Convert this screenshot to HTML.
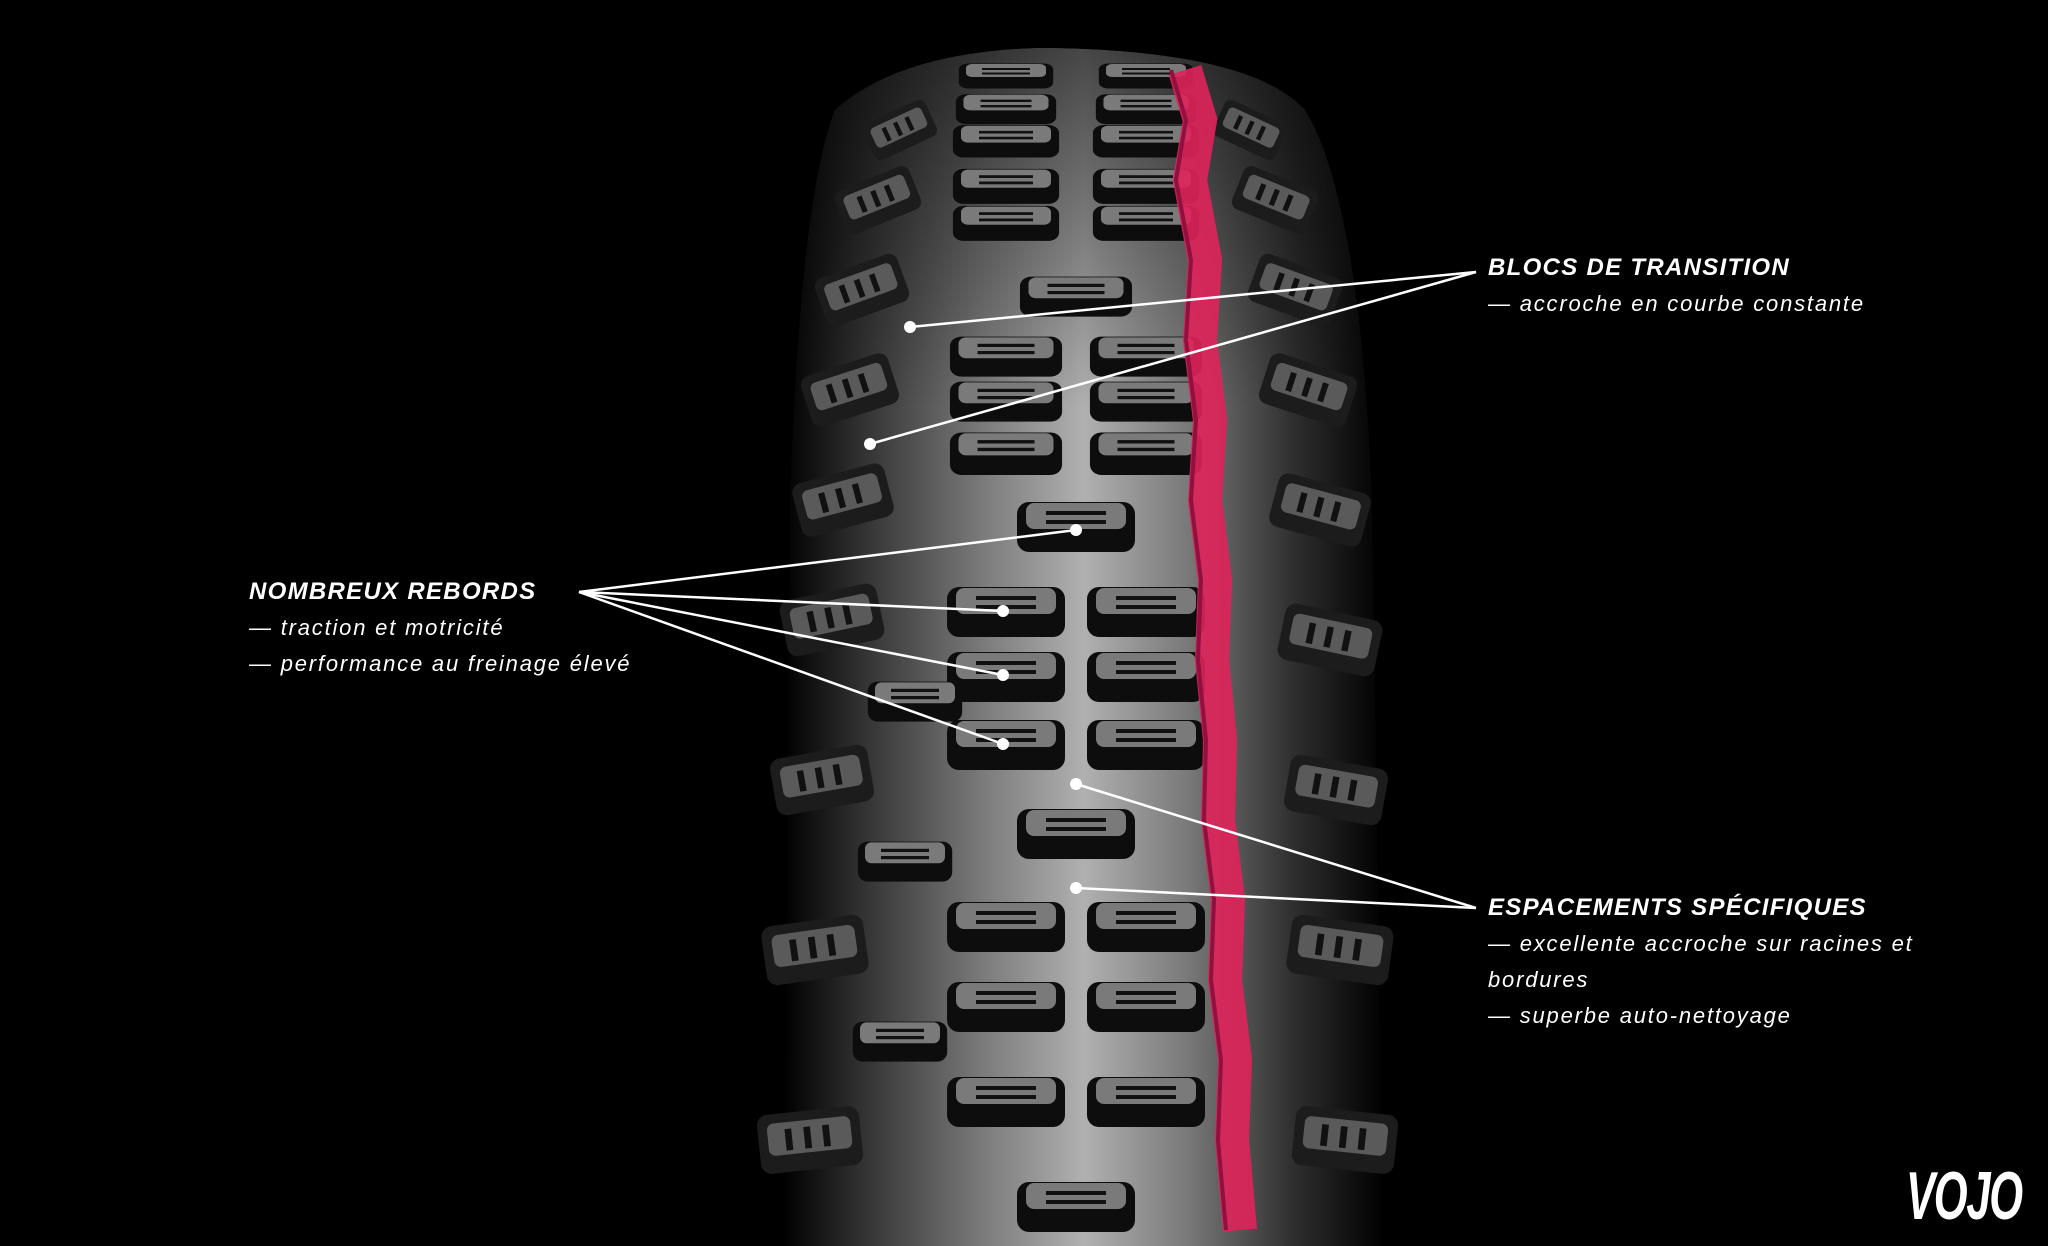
<!DOCTYPE html>
<html><head><meta charset="utf-8"><style>
html,body{margin:0;padding:0;background:#000;}
body{width:2048px;height:1246px;position:relative;overflow:hidden;font-family:"Liberation Sans",sans-serif;color:#fff;}
.t{position:absolute;font-style:italic;font-size:22px;letter-spacing:1.8px;line-height:36px;}
.t b{font-size:24px;font-weight:900;letter-spacing:1.3px;}
</style></head><body>
<svg width="2048" height="1246" style="position:absolute;left:0;top:0">
<defs>
<linearGradient id="tg" x1="0" x2="1" y1="0" y2="0">
<stop offset="0" stop-color="#000"/>
<stop offset="0.12" stop-color="#2e2e2e"/>
<stop offset="0.33" stop-color="#7a7a7a"/>
<stop offset="0.5" stop-color="#b0b0b0"/>
<stop offset="0.67" stop-color="#7a7a7a"/>
<stop offset="0.85" stop-color="#2e2e2e"/>
<stop offset="1" stop-color="#000"/>
</linearGradient>
<linearGradient id="vg" x1="0" x2="0" y1="0" y2="1">
<stop offset="0" stop-color="#000" stop-opacity="0.6"/>
<stop offset="0.3" stop-color="#000" stop-opacity="0"/>
</linearGradient>
<g id="blk"><rect x="-59" y="-23" width="118" height="50" rx="12" fill="#0d0d0d"/><rect x="-50" y="-22" width="100" height="26" rx="8" fill="#7a7a7a"/><rect x="-30" y="-14" width="60" height="4" fill="#111"/><rect x="-30" y="-5" width="60" height="4" fill="#111"/></g>
<g id="sb"><rect x="-38" y="-22" width="76" height="44" rx="8" fill="#1c1c1c"/><rect x="-31" y="-15" width="62" height="24" rx="5" fill="#5a5a5a"/><rect x="-18" y="-10" width="5" height="16" fill="#111"/><rect x="-4" y="-10" width="5" height="16" fill="#111"/><rect x="10" y="-10" width="5" height="16" fill="#111"/></g>
</defs>
<path d="M784,1246 L790,500 Q800,200 835,110 Q900,52 1040,48 Q1250,50 1305,110 Q1360,200 1372,500 L1384,1246 Z" fill="url(#tg)"/>
<path d="M784,1246 L790,500 Q800,200 835,110 Q900,52 1040,48 Q1250,50 1305,110 Q1360,200 1372,500 L1384,1246 Z" fill="url(#vg)"/>
<g>
<use href="#blk" transform="translate(1006,75) scale(0.8,0.5)"/><use href="#blk" transform="translate(1146,75) scale(0.8,0.5)"/>
<use href="#blk" transform="translate(1006,108) scale(0.85,0.6)"/><use href="#blk" transform="translate(1146,108) scale(0.85,0.6)"/>
<use href="#blk" transform="translate(1006,140) scale(0.9,0.65)"/><use href="#blk" transform="translate(1146,140) scale(0.9,0.65)"/>
<use href="#blk" transform="translate(1006,185) scale(0.9,0.7)"/><use href="#blk" transform="translate(1146,185) scale(0.9,0.7)"/>
<use href="#blk" transform="translate(1006,222) scale(0.9,0.7)"/><use href="#blk" transform="translate(1146,222) scale(0.9,0.7)"/>
<use href="#blk" transform="translate(1076,295) scale(0.95,0.8)"/>
<use href="#blk" transform="translate(1006,355) scale(0.95,0.8)"/><use href="#blk" transform="translate(1146,355) scale(0.95,0.8)"/>
<use href="#blk" transform="translate(1006,400) scale(0.95,0.8)"/><use href="#blk" transform="translate(1146,400) scale(0.95,0.8)"/>
<use href="#blk" transform="translate(1006,452) scale(0.95,0.85)"/><use href="#blk" transform="translate(1146,452) scale(0.95,0.85)"/>
<use href="#blk" transform="translate(1076,525)"/>
<use href="#blk" transform="translate(1006,610)"/><use href="#blk" transform="translate(1146,610)"/>
<use href="#blk" transform="translate(1006,675)"/><use href="#blk" transform="translate(1146,675)"/>
<use href="#blk" transform="translate(1006,743)"/><use href="#blk" transform="translate(1146,743)"/>
<use href="#blk" transform="translate(1076,832)"/>
<use href="#blk" transform="translate(1006,925)"/><use href="#blk" transform="translate(1146,925)"/>
<use href="#blk" transform="translate(1006,1005)"/><use href="#blk" transform="translate(1146,1005)"/>
<use href="#blk" transform="translate(1006,1100)"/><use href="#blk" transform="translate(1146,1100)"/>
<use href="#blk" transform="translate(1076,1205)"/>
</g>
<g>
<use href="#sb" transform="translate(900,130) rotate(-25) scale(0.9)"/><use href="#sb" transform="translate(878,200) rotate(-22) scale(1.05)"/>
<use href="#sb" transform="translate(862,290) rotate(-20) scale(1.15)"/><use href="#sb" transform="translate(850,390) rotate(-18) scale(1.2)"/>
<use href="#sb" transform="translate(843,500) rotate(-15) scale(1.25)"/><use href="#sb" transform="translate(832,620) rotate(-12) scale(1.3)"/>
<use href="#sb" transform="translate(822,780) rotate(-10) scale(1.3)"/><use href="#sb" transform="translate(815,950) rotate(-8) scale(1.35)"/>
<use href="#sb" transform="translate(810,1140) rotate(-6) scale(1.35)"/>
<use href="#blk" transform="translate(915,700) scale(0.8)"/><use href="#blk" transform="translate(905,860) scale(0.8)"/><use href="#blk" transform="translate(900,1040) scale(0.8)"/>
<use href="#sb" transform="translate(1250,130) rotate(25) scale(0.9)"/><use href="#sb" transform="translate(1275,200) rotate(22) scale(1.05)"/>
<use href="#sb" transform="translate(1295,290) rotate(20) scale(1.15)"/><use href="#sb" transform="translate(1308,390) rotate(18) scale(1.2)"/>
<use href="#sb" transform="translate(1320,510) rotate(15) scale(1.25)"/><use href="#sb" transform="translate(1330,640) rotate(12) scale(1.3)"/>
<use href="#sb" transform="translate(1336,790) rotate(10) scale(1.3)"/><use href="#sb" transform="translate(1340,950) rotate(8) scale(1.35)"/>
<use href="#sb" transform="translate(1345,1140) rotate(6) scale(1.35)"/>
</g>
<path d="M1185,70 L1200,120 L1190,180 L1205,260 L1200,340 L1210,420 L1205,500 L1215,580 L1212,660 L1220,740 L1218,820 L1228,900 L1225,980 L1235,1060 L1232,1140 L1240,1230" stroke="#e0245a" stroke-width="34" fill="none" opacity="0.9"/>
<path d="M1185,70 L1200,120 L1190,180 L1205,260 L1200,340 L1210,420 L1205,500 L1215,580 L1212,660 L1220,740 L1218,820 L1228,900 L1225,980 L1235,1060 L1232,1140 L1240,1230" stroke="#901040" stroke-width="4" fill="none" transform="translate(-14,0)"/>
<g stroke="#fff" stroke-width="2.5" fill="none">
<line x1="1476" y1="272" x2="910" y2="327"/><line x1="1476" y1="272" x2="870" y2="444"/>
<line x1="579" y1="592" x2="1076" y2="530"/><line x1="579" y1="592" x2="1003" y2="611"/>
<line x1="579" y1="592" x2="1003" y2="675"/><line x1="579" y1="592" x2="1003" y2="744"/>
<line x1="1476" y1="908" x2="1076" y2="784"/><line x1="1476" y1="908" x2="1076" y2="888"/>
</g>
<g fill="#fff">
<circle cx="910" cy="327" r="6"/><circle cx="870" cy="444" r="6"/><circle cx="1076" cy="530" r="6"/>
<circle cx="1003" cy="611" r="6"/><circle cx="1003" cy="675" r="6"/><circle cx="1003" cy="744" r="6"/>
<circle cx="1076" cy="784" r="6"/><circle cx="1076" cy="888" r="6"/>
</g>
</svg>
<div class="t" style="left:1488px;top:250px"><b>BLOCS DE TRANSITION</b><br>— accroche en courbe constante</div>
<div class="t" style="left:249px;top:574px"><b>NOMBREUX REBORDS</b><br>— traction et motricité<br>— performance au freinage élevé</div>
<div class="t" style="left:1488px;top:890px;width:520px"><b>ESPACEMENTS SPÉCIFIQUES</b><br>— excellente accroche sur racines et bordures<br>— superbe auto-nettoyage</div>
<div style="position:absolute;left:1906px;top:1160px;font-size:68px;line-height:72px;font-weight:900;font-style:italic;letter-spacing:-2px;color:#fff;transform:scaleX(0.64);transform-origin:left;">VOJO</div>
</body></html>
